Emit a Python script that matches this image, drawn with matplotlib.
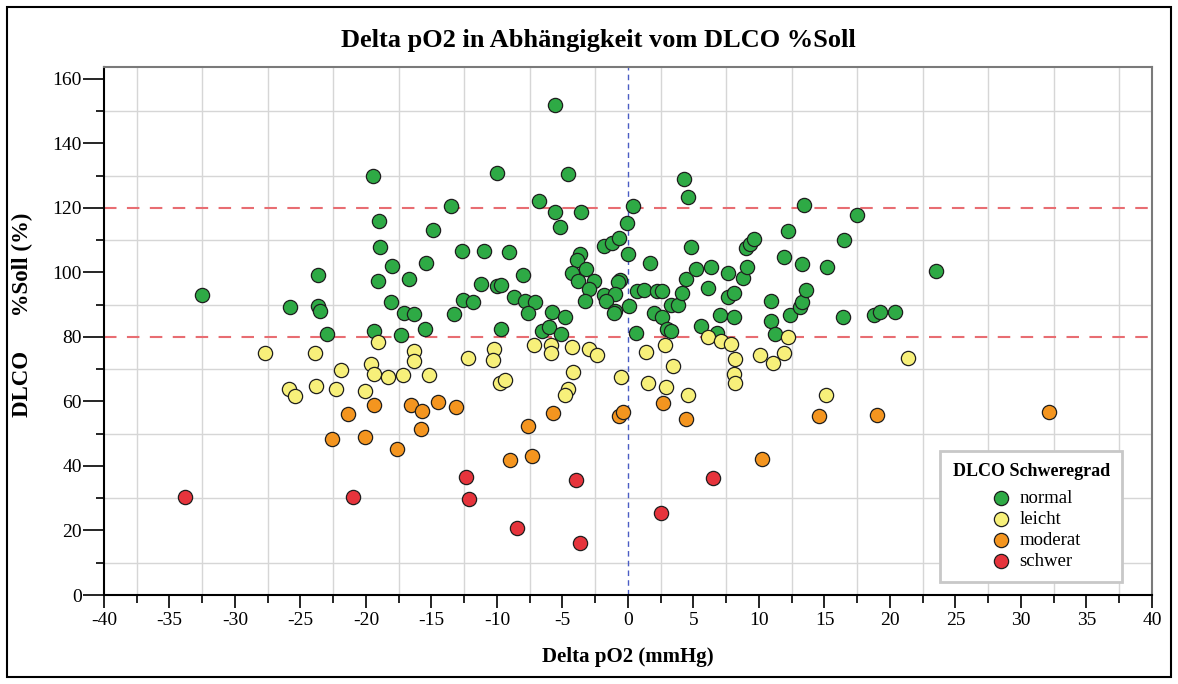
import matplotlib
matplotlib.use("Agg")
import matplotlib.pyplot as plt
from matplotlib.ticker import MultipleLocator
from matplotlib.patches import Rectangle

plt.rcParams["font.family"] = ["Liberation Serif", "DejaVu Serif"]
plt.rcParams["axes.unicode_minus"] = False

# ---------------- data (Delta pO2 [mmHg], DLCO %Soll [%]) ----------------
normal_x = [-32.5, -25.8, -23.7, -23.7, -23.5, -23.0, -19.5, -19.0, -18.9, -19.1,
            -18.1, -18.0, -19.4, -17.3, -17.1, -16.7, -16.3, -15.4, -15.5, -14.9,
            -13.5, -13.3, -12.7, -12.6, -11.8, -11.0, -11.2, -10.0, -10.0, -9.7,
            -9.1, -8.7, -8.0, -7.9, -7.1, -7.6, -9.7, -6.8, -6.6, -6.0,
            -5.8, -5.6, -5.6, -5.2, -5.1, -4.6, -4.8, -3.6, -3.7, -3.9,
            -3.2, -4.3, -3.8, -2.6, -3.0, -3.3, -1.8, -1.2, -0.7, -0.1,
            0.4, 0.0, -0.6, -0.8, -1.8, -1.0, -1.7, -1.0, -1.1, 0.1,
            0.7, 1.2, 0.6, 1.7, 2.2, 2.6, 2.0, 2.6, 3.0, 3.3,
            3.3, 3.8, 4.1, 4.4, 4.3, 4.6, 4.8, 5.2, 6.3, 6.1,
            5.6, 6.8, 7.0, 7.6, 7.6, 8.1, 8.1, 8.8, 9.1, 9.0,
            9.3, 9.6, 10.9, 10.9, 11.2, 11.9, 12.2, 12.4, 13.3, 13.1,
            13.3, 13.6, 13.4, 15.2, 16.5, 17.5, 16.4, 18.8, 19.2, 20.4,
            23.5]
normal_y = [92.9, 89.3, 99.2, 89.6, 88.2, 81.0, 130.0, 115.9, 107.8, 97.2,
            90.8, 102.1, 81.9, 80.6, 87.4, 98.0, 87.1, 102.8, 82.4, 113.2,
            120.6, 87.2, 106.8, 91.5, 90.7, 106.8, 96.4, 130.8, 95.8, 96.0,
            106.3, 92.5, 99.2, 91.0, 90.7, 87.5, 82.4, 122.1, 82.0, 83.0,
            87.8, 152.0, 118.7, 114.2, 80.9, 130.4, 86.3, 118.8, 105.7, 103.9,
            101.0, 99.9, 97.2, 97.2, 94.8, 91.0, 108.2, 109.0, 110.6, 115.2,
            120.7, 105.7, 97.7, 97.0, 93.0, 93.3, 91.0, 88.2, 87.3, 89.7,
            94.3, 94.6, 81.3, 103.0, 94.1, 94.4, 87.5, 86.3, 82.4, 82.0,
            89.9, 89.9, 93.7, 97.9, 128.9, 123.3, 107.8, 101.0, 101.6, 95.1,
            83.4, 81.3, 86.8, 99.9, 92.5, 93.5, 86.1, 98.4, 101.6, 107.5,
            108.8, 110.3, 91.0, 85.1, 80.9, 104.7, 112.7, 86.8, 102.6, 89.4,
            90.7, 94.6, 120.9, 101.8, 110.0, 117.8, 86.3, 86.8, 87.7, 87.7,
            100.5]

leicht_x = [-27.7, -25.9, -25.4, -23.9, -23.8, -22.3, -21.9, -20.1, -19.6, -19.4,
            -19.1, -18.3, -17.2, -16.3, -16.3, -15.2, -12.2, -10.2, -10.3, -9.8,
            -9.4, -7.2, -5.9, -5.9, -4.3, -3.0, -2.4, -4.2, -4.6, -4.8,
            -0.5, 1.4, 2.8, 3.4, 1.5, 2.9, 4.6, 6.1, 7.1, 7.9,
            8.2, 8.1, 8.2, 10.1, 11.1, 11.9, 12.2, 15.1, 21.4]
leicht_y = [75.1, 63.8, 61.6, 75.1, 64.9, 63.8, 69.8, 63.3, 71.5, 68.5,
            78.5, 67.6, 68.3, 75.8, 72.4, 68.3, 73.5, 76.2, 72.9, 65.6,
            66.7, 77.4, 77.4, 74.9, 77.0, 76.3, 74.4, 69.1, 63.9, 62.0,
            67.7, 75.3, 77.5, 71.0, 65.8, 64.6, 62.0, 80.1, 78.6, 77.7,
            73.2, 68.4, 65.8, 74.4, 72.0, 74.9, 79.9, 62.0, 73.6]

moderat_x = [-22.6, -21.4, -20.1, -19.4, -17.6, -16.6, -15.7, -15.8, -14.5, -13.1,
             -9.0, -7.6, -7.3, -5.7, -0.7, -0.4, 2.7, 4.4, 10.2, 14.6,
             19.0, 32.1]
moderat_y = [48.4, 56.0, 49.1, 58.8, 45.4, 59.0, 57.1, 51.5, 59.7, 58.2,
             41.9, 52.4, 43.1, 56.5, 55.5, 56.8, 59.6, 54.7, 42.2, 55.5,
             55.8, 56.7]

schwer_x = [-33.8, -21.0, -12.4, -12.1, -8.5, -4.0, -3.7, 2.5, 6.5]
schwer_y = [30.5, 30.3, 36.7, 29.8, 20.8, 35.6, 16.1, 25.3, 36.4]

groups = ["normal", "leicht", "moderat", "schwer"]
colors = ["#2eaa45", "#f7f07a", "#f4951f", "#e6343c"]
series = [(normal_x, normal_y), (leicht_x, leicht_y),
          (moderat_x, moderat_y), (schwer_x, schwer_y)]

ref_lines_y = [80, 120]
ref_line_x = 0

# ---------------- figure ----------------
W, H = 1178, 684
fig = plt.figure(figsize=(W / 100, H / 100), dpi=100)
L, R, T, B = 104, 1152, 67, 595
ax = fig.add_axes([L / W, 1 - B / H, (R - L) / W, (B - T) / H])

for (xs, ys), c, g in zip(series, colors, groups):
    ax.scatter(xs, ys, s=105, c=c, edgecolors="#1e1e1e", linewidths=0.9,
               zorder=3, label=g)

for yv in ref_lines_y:
    ax.axhline(yv, color="#e86d72", lw=1.5, dashes=(6, 5), zorder=2)
ax.axvline(ref_line_x, color="#4a5cc4", lw=1.0, dashes=(4, 3), zorder=2)

ax.set_xlim(-40, 40)
ax.set_ylim(0, 163.7)
ax.xaxis.set_major_locator(MultipleLocator(5))
ax.xaxis.set_minor_locator(MultipleLocator(2.5))
ax.yaxis.set_major_locator(MultipleLocator(20))
ax.yaxis.set_minor_locator(MultipleLocator(10))
ax.grid(False)
ax.grid(which="minor", color="#d6d6d6", lw=1.0, zorder=0)
ax.set_axisbelow(True)

ax.tick_params(axis="x", which="major", length=9, width=1.2, direction="out",
               labelsize=14, pad=3, colors="black")
ax.tick_params(axis="x", which="minor", length=5.5, width=1.2, direction="out")
ax.tick_params(axis="y", which="major", length=15, width=1.2, direction="out",
               labelsize=14, pad=1)
ax.tick_params(axis="y", which="minor", length=5.5, width=1.2, direction="out")
ax.tick_params(top=False, right=False)

for s in ["left", "bottom"]:
    ax.spines[s].set_color("black")
    ax.spines[s].set_linewidth(1.5)
for s in ["top", "right"]:
    ax.spines[s].set_color("#7a7a7a")
    ax.spines[s].set_linewidth(1.5)

ax.set_xlabel("Delta pO2 (mmHg)", fontsize=15, fontweight="bold")
ax.xaxis.set_label_coords((628 - L) / (R - L), (B - 647) / (B - T))
ax.set_ylabel("DLCO      %Soll (%)", fontsize=16.5, fontweight="bold")
ax.yaxis.set_label_coords((33 - L) / (R - L), (B - 315) / (B - T))

fig.text(598 / W, 1 - 41 / H, "Delta pO2 in Abhängigkeit vom DLCO %Soll",
         ha="center", va="center", fontsize=19, fontweight="bold")

leg = ax.legend(title="DLCO Schweregrad", loc="lower right",
                bbox_to_anchor=((1122 - L) / (R - L), (B - 582) / (B - T)),
                fontsize=13.5, title_fontproperties={"weight": "bold", "size": 13},
                frameon=True, fancybox=False, edgecolor="#c8c8c8",
                framealpha=1, borderpad=0.65, labelspacing=0.2,
                handletextpad=0.0, markerscale=1.0, borderaxespad=0)
leg.get_frame().set_linewidth(2)
leg._legend_box.sep = 7

fig.patches.append(Rectangle((7 / W, 7 / H), 1 - 14 / W, 1 - 14 / H,
                             transform=fig.transFigure, fill=False,
                             edgecolor="black", lw=1.5))

fig.savefig("out.png", dpi=100)
